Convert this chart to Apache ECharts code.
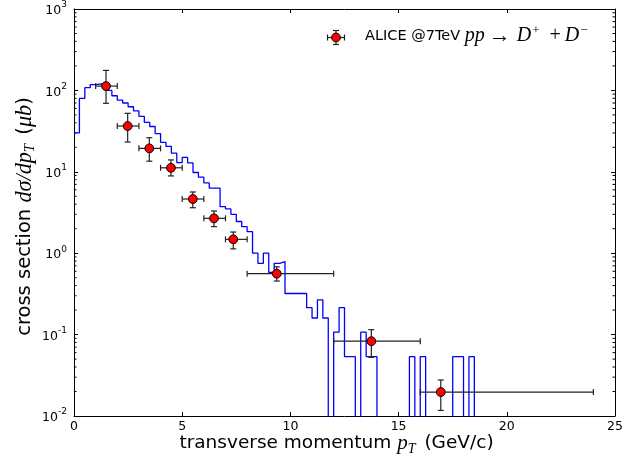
<!DOCTYPE html>
<html>
<head>
<meta charset="utf-8">
<script src="https://cdn.jsdelivr.net/npm/echarts@6/dist/echarts.min.js"></script>
<style>
  html, body { margin: 0; padding: 0; background: #fff; }
  #chart { width: 635px; height: 459px; }
</style>
</head>
<body>
<div id="chart"></div>
<script>
// Simulated D+ / D- spectrum: 0.25 GeV/c bins starting at pT = 0 (value per bin, µb)
const binWidth = 0.25;
const simValues = [
  30, 80, 108, 118, 120, 117, 100, 86, 76, 70,
  63, 56, 48, 40.5, 36, 29.5, 23, 20.5, 17, 13,
  15, 12.9, 9.8, 8.6, 7.3, 6.3, 6.3, 3.73, 3.5, 3.0,
  2.45, 2.12, 1.84, 1.0, 0.75, 1.0, 0.58, 0.75, 0.79, 0.32,
  0.32, 0.32, 0.32, 0.214, 0.16, 0.267, 0.16, 0, 0.107, 0.214,
  0.0535, 0.0535, 0, 0.107, 0.0535, 0.0535, 0, 0, 0, 0,
  0, 0, 0.0535, 0, 0.0535, 0, 0, 0, 0, 0,
  0.0535, 0.0535, 0, 0.0535, 0
];

// ALICE measurement at 7 TeV: pT, cross section, bin edges, error band
const alicePt    = [1.48, 2.48, 3.48, 4.48, 5.49, 6.47, 7.36, 9.37, 13.74, 16.95];
const aliceSigma = [113, 36.5, 19.4, 11.2, 4.63, 2.68, 1.48, 0.56, 0.083, 0.0197];
const alicePtLo  = [1, 2, 3, 4, 5, 6, 7, 8, 12, 16];
const alicePtHi  = [2, 3, 4, 5, 6, 7, 8, 12, 16, 24];
const aliceErrLo = [69.4, 23.2, 13.5, 8.9, 3.62, 2.12, 1.13, 0.455, 0.0526, 0.0117];
const aliceErrHi = [176, 52.3, 26.2, 14.0, 5.65, 3.30, 1.82, 0.68, 0.115, 0.0277];

// Axis ranges and ticks
const xTicks = [0, 5, 10, 15, 20, 25];
const yMin = 0.01, yMax = 1000;
const yMinorTicks = [];
for (let e = -2; e < 3; e++) {
  for (let m = 2; m <= 9; m++) yMinorTicks.push(m * Math.pow(10, e));
}

// Empty bins sit below the visible range; the line is clipped at the frame
const EMPTY = 1e-5;
const histData = simValues.map((v, i) => [i * binWidth, v > 0 ? v : EMPTY]);
histData.push([simValues.length * binWidth, EMPTY]);

const errData = alicePt.map((x, i) => [x, aliceSigma[i], alicePtLo[i], alicePtHi[i], aliceErrLo[i], aliceErrHi[i]]);

const INK = '#000';
const SANS = 'DejaVu Sans';
const MATH = 'Liberation Serif';

const chart = echarts.init(document.getElementById('chart'), null, { renderer: 'canvas' });

const axisCommon = {
  axisLine: { show: true, onZero: false, lineStyle: { color: INK, width: 1 } },
  splitLine: { show: false }
};

function titleRich(size) {
  return {
    n: { fontFamily: SANS, fontSize: size, color: INK, lineHeight: 26 },
    m: { fontFamily: MATH, fontStyle: 'italic', fontSize: size * 1.14, color: INK, lineHeight: 26 },
    sub: { fontFamily: MATH, fontStyle: 'italic', fontSize: size * 0.76, color: INK, lineHeight: 26, verticalAlign: 'bottom', padding: [7, 3, 0, 0] }
  };
}

function errorBarItem(params, api) {
  const x = api.value(0), y = api.value(1);
  const p = api.coord([x, y]);
  const pl = api.coord([api.value(2), y]);
  const pr = api.coord([api.value(3), y]);
  const pb = api.coord([x, api.value(4)]);
  const pt = api.coord([x, api.value(5)]);
  const cap = 3;
  const ls = { stroke: '#222', lineWidth: 1.2 };
  return {
    type: 'group',
    children: [
      { type: 'line', shape: { x1: pl[0], y1: p[1], x2: pr[0], y2: p[1] }, style: ls },
      { type: 'line', shape: { x1: pl[0], y1: p[1] - cap, x2: pl[0], y2: p[1] + cap }, style: ls },
      { type: 'line', shape: { x1: pr[0], y1: p[1] - cap, x2: pr[0], y2: p[1] + cap }, style: ls },
      { type: 'line', shape: { x1: p[0], y1: pb[1], x2: p[0], y2: pt[1] }, style: ls },
      { type: 'line', shape: { x1: p[0] - cap, y1: pb[1], x2: p[0] + cap, y2: pb[1] }, style: ls },
      { type: 'line', shape: { x1: p[0] - cap, y1: pt[1], x2: p[0] + cap, y2: pt[1] }, style: ls },
      { type: 'circle', shape: { cx: p[0], cy: p[1], r: 4.4 }, style: { fill: '#ff0000', stroke: '#000', lineWidth: 1 } }
    ]
  };
}

function minorTickItem(params, api) {
  const cs = params.coordSys;
  const p = api.coord([0, api.value(0)]);
  const len = 2.5;
  const ls = { stroke: INK, lineWidth: 1 };
  return {
    type: 'group',
    children: [
      { type: 'line', shape: { x1: cs.x, y1: p[1], x2: cs.x + len, y2: p[1] }, style: ls },
      { type: 'line', shape: { x1: cs.x + cs.width, y1: p[1], x2: cs.x + cs.width - len, y2: p[1] }, style: ls }
    ]
  };
}

const option = {
  animation: false,
  backgroundColor: '#fff',
  grid: { left: 74, top: 9, right: 20, bottom: 43, containLabel: false, outerBoundsMode: 'none' },
  xAxis: [
    Object.assign({
      type: 'value', min: xTicks[0], max: xTicks[xTicks.length - 1], interval: 5,
      position: 'bottom',
      axisTick: { show: true, inside: true, length: 4, lineStyle: { color: INK } },
      axisLabel: { show: true, color: INK, fontFamily: SANS, fontSize: 12.5, margin: 4 },
      name: '{n|transverse momentum }{m|p}{sub|T}{n| (GeV/c)}',
      nameLocation: 'middle', nameGap: 14, nameMoveOverlap: false,
      nameTextStyle: { rich: titleRich(18.5), padding: [0, 16, 0, 0] }
    }, axisCommon),
    Object.assign({
      type: 'value', min: xTicks[0], max: xTicks[xTicks.length - 1], interval: 5,
      position: 'top',
      axisTick: { show: true, inside: true, length: 4, lineStyle: { color: INK } },
      axisLabel: { show: false }
    }, axisCommon)
  ],
  yAxis: [
    Object.assign({
      type: 'log', logBase: 10, min: yMin, max: yMax,
      position: 'left',
      axisTick: { show: true, inside: true, length: 4, lineStyle: { color: INK } },
      axisLabel: {
        show: true, margin: 7,
        formatter: function (v) {
          const e = Math.round(Math.log10(v));
          return '{b|10}{s|' + e + '}';
        },
        rich: {
          b: { fontFamily: SANS, fontSize: 12.5, color: INK, lineHeight: 17, verticalAlign: 'bottom' },
          s: { fontFamily: SANS, fontSize: 9, color: INK, lineHeight: 17, verticalAlign: 'top' }
        }
      },
      name: '{n|cross section }{m|dσ/dp}{sub|T}{n| (}{m|μb}{n|)}',
      nameLocation: 'middle', nameGap: 36, nameRotate: 90, nameMoveOverlap: false,
      nameTextStyle: { rich: titleRich(19.5), padding: [0, 8, 0, 0] }
    }, axisCommon),
    Object.assign({
      type: 'log', logBase: 10, min: yMin, max: yMax,
      position: 'right',
      axisTick: { show: true, inside: true, length: 4, lineStyle: { color: INK } },
      axisLabel: { show: false }
    }, axisCommon)
  ],
  series: [
    {
      name: 'simulation',
      type: 'line',
      step: 'end',
      data: histData,
      showSymbol: false,
      clip: true,
      lineStyle: { color: '#0000ff', width: 1.3 },
      z: 2
    },
    {
      name: 'minor ticks',
      type: 'custom',
      data: yMinorTicks.map(v => [v]),
      renderItem: minorTickItem,
      encode: { y: 0 },
      silent: true,
      z: 1
    },
    {
      name: 'ALICE @7TeV',
      type: 'custom',
      data: errData,
      renderItem: errorBarItem,
      encode: { x: 0, y: 1 },
      clip: true,
      z: 3
    }
  ],
  graphic: [
    {
      type: 'group', left: 325, top: 28,
      children: [
        { type: 'line', shape: { x1: 0, y1: 8, x2: 17, y2: 8 }, style: { stroke: '#222', lineWidth: 1.2 } },
        { type: 'line', shape: { x1: 0, y1: 5, x2: 0, y2: 11 }, style: { stroke: '#222', lineWidth: 1.2 } },
        { type: 'line', shape: { x1: 17, y1: 5, x2: 17, y2: 11 }, style: { stroke: '#222', lineWidth: 1.2 } },
        { type: 'line', shape: { x1: 8.5, y1: 1, x2: 8.5, y2: 15 }, style: { stroke: '#222', lineWidth: 1.2 } },
        { type: 'line', shape: { x1: 5.5, y1: 1, x2: 11.5, y2: 1 }, style: { stroke: '#222', lineWidth: 1.2 } },
        { type: 'line', shape: { x1: 5.5, y1: 15, x2: 11.5, y2: 15 }, style: { stroke: '#222', lineWidth: 1.2 } },
        { type: 'circle', shape: { cx: 8.5, cy: 8, r: 4.4 }, style: { fill: '#ff0000', stroke: '#000', lineWidth: 1 } }
      ]
    },
    {
      type: 'text', left: 365, top: 24,
      style: {
        text: '{n|ALICE @7TeV }{m|pp}{o|→}{m|D}{sup|+}{p|+}{m|D}{sup|−}',
        rich: {
          n: { fontFamily: SANS, fontSize: 14.5, fill: INK, lineHeight: 24 },
          m: { fontFamily: MATH, fontStyle: 'italic', fontSize: 20, fill: INK, lineHeight: 24 },
          o: { fontFamily: MATH, fontSize: 22, fill: INK, lineHeight: 24, padding: [0, 6, 0, 4] },
          p: { fontFamily: MATH, fontSize: 20, fill: INK, lineHeight: 24, padding: [0, 4, 0, 7] },
          sup: { fontFamily: MATH, fontSize: 13, fill: INK, lineHeight: 24, verticalAlign: 'top', padding: [0, 3, 0, 1] }
        }
      }
    }
  ]
};

chart.setOption(option);
</script>
</body>
</html>
